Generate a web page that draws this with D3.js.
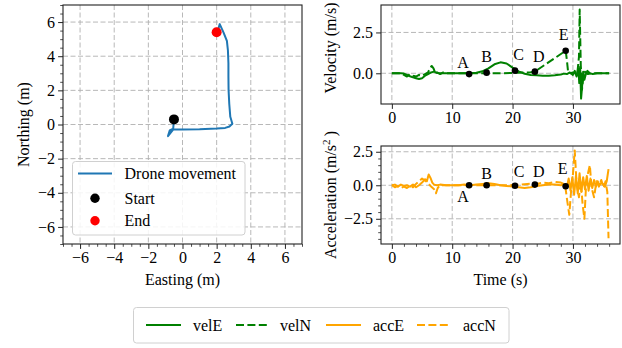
<!DOCTYPE html>
<html><head><meta charset="utf-8">
<script src="https://cdn.jsdelivr.net/npm/d3@7"></script>
<style>
body{margin:0;background:#fff}
svg{display:block}
</style>
</head><body>
<svg id="c" width="622" height="348"></svg>
<script>
// ---------- DATA ----------
const trajEast  = [-0.5,-0.52,-0.55,-0.85,-0.75,-0.6,0.0,1.0,2.0,2.5,2.75,2.92,2.8,2.74,2.7,2.69,2.69,2.66,2.6,2.4,2.18,2.1,2.02];
const trajNorth = [0.3,0.05,-0.3,-0.68,-0.35,-0.28,-0.29,-0.28,-0.24,-0.2,-0.12,0.04,0.45,1.2,2.0,2.8,3.6,4.35,4.9,5.4,5.88,5.6,5.37];
const startPt = [-0.5, 0.3];
const endPt = [2.0, 5.4];

const tVelE = [0,1.5,2,2.5,3,3.5,4,4.5,5,5.5,6,6.5,7,7.5,8,9,10,11,12,13,14,15,16,17,18,19,20,21,22,23,24,25,26,27,28,28.5,29,29.5,30,30.3,30.6,30.9,31.05,31.2,31.35,31.5,31.7,31.9,32.1,32.4,32.8,33.3,34,35,36];
const velE  = [0,0,-0.02,-0.1,-0.18,-0.25,-0.3,-0.35,-0.3,-0.15,-0.05,0.05,0.1,0.02,0,0,0,0,0,0,0.03,0.12,0.3,0.55,0.67,0.6,0.35,0.12,-0.03,-0.1,-0.12,-0.15,-0.15,-0.12,-0.08,-0.02,-0.05,0.05,-0.1,0.15,-0.2,0.3,-0.6,0.4,-1.55,-0.9,0.1,-0.4,-0.1,0.15,0,-0.05,0,0,0];

const tVelN = [0,1.5,2,2.5,3,3.5,4,4.5,5,5.5,6,6.3,6.6,6.9,7.2,7.5,8,8.5,9,10,12,14,16,18,20,22,23,23.7,25,26,27,28,28.8,29.0,29.2,29.6,30,30.4,30.7,31.0,31.12,31.3,31.5,31.7,32,32.5,33,34,35,36];
const velN  = [0,0,-0.1,-0.2,-0.05,-0.15,-0.2,-0.1,-0.15,-0.05,0.05,0.3,0.45,0.3,0,0.05,-0.05,0.05,0,0,0,0,0,0,0.02,0.05,0.06,0.1,0.43,0.68,0.93,1.18,1.38,0.8,0.1,0,0.05,0,-0.1,1.0,3.9,0.5,-1.0,-0.3,0.1,-0.05,0,0,0,0];

const tAccE = [0,0.5,1,1.5,2,2.5,3,3.5,4,4.5,5,5.5,5.8,6.1,6.4,6.7,7,7.5,8,9,10,11,12,13,14,15,16,17,18,19,20,21,22,23,24,25,26,27,28,28.5,29,29.3,29.6,29.9,30.2,30.5,30.8,31.1,31.4,31.7,32,32.3,32.6,32.9,33.2,33.5,33.8,34.1,34.4,34.7,35,35.3,35.6,35.9];
const accE  = [0,0.05,-0.1,0.05,-0.05,0,-0.1,0.05,-0.15,0,0.2,0.45,0.3,0.8,0.55,0.2,0.05,0,0.05,0,0,0,0.05,0,0.05,0.1,0.15,0.1,0,-0.05,-0.1,-0.15,-0.2,-0.15,-0.05,0,0.05,0.05,0,0.1,-0.1,0.5,-0.4,0.6,-0.7,0.7,-0.6,0.9,-0.5,0.6,-0.3,0.7,-0.4,0.5,-0.2,0.4,-0.1,0.3,0,0.2,0.1,-0.1,0.3,1.2];

const tAccN = [0,0.5,1,1.5,2,2.5,3,3.5,4,4.5,5,5.5,6,6.5,7,7.3,7.6,8,9,10,12,14,16,18,20,22,23,24,25,26,27,28,28.5,28.8,29.1,29.4,29.7,30.0,30.3,30.6,31.0,31.3,31.6,31.9,32.2,32.5,32.8,33.1,33.5,33.9,34.3,34.7,35.1,35.4,35.7,35.9];
const accN  = [0,-0.15,-0.05,-0.2,-0.1,-0.2,-0.05,-0.15,0.1,0.3,0.5,0.35,0.15,-0.1,-0.3,-0.6,-0.2,0,0,0,0,0,0,0,0.02,0.08,0.12,0.1,0.2,0.15,0.25,0.2,0.1,-0.3,-1.3,-2.2,-0.4,0.8,2.6,0.2,-0.9,0.3,-1.4,-2.5,0.2,0.9,1.5,-0.2,-0.9,0.3,-0.1,0.4,-0.2,0.3,-0.5,-3.95];

const markLabels = ["A","B","C","D","E"];
const markT   = [12.8,15.7,20.4,23.7,28.8];
const markVel = [-0.05,0.04,0.16,0.1,1.38];
const markAcc = [0.0,0.0,-0.03,0.05,-0.07];

const xTicksL = [-6,-4,-2,0,2,4,6];
const yTicksL = [-6,-4,-2,0,2,4,6];
const tTicks = [0,10,20,30];
const vTicks = [0,2.5];
const aTicks = [-2.5,0,2.5];
const legendNames = ["velE","velN","accE","accN"];

// ---------- STYLE ----------
const FS = 16;
const FONT = '"Liberation Serif", "Times New Roman", Times, serif';
const GREEN = "#008000", ORANGE = "#ffa500", BLUE = "#1f77b4";
const DASH = "8,3.4";
const svg = d3.select("#c");
const minus = s => String(s).replace("-", "\u2212");
const txt = (sel) => sel.style("font-family", FONT).style("font-size", FS+"px").attr("fill","#000");

// scales
const xL = d3.scaleLinear([-7,7],[63,302]);
const yL = d3.scaleLinear([-7,7],[244,5]);
const xT = d3.scaleLinear([-1.8,37.8],[381,620]);
const yV = d3.scaleLinear([-1.88,4.18],[104,5]);
const yA = d3.scaleLinear([-4.38,2.93],[244,146]);

function frame(id, xs, ys, xt, yt, xMinor, yMinor, fx, fy){
  const [x0,x1] = xs.range(), [y1,y0] = ys.range();
  const g = svg.append("g");
  const grid = g.append("g").attr("stroke","#b0b0b0").attr("stroke-width",0.9).attr("stroke-dasharray","5,2.5");
  xt.forEach(v=>grid.append("line").attr("x1",xs(v)).attr("x2",xs(v)).attr("y1",y0).attr("y2",y1));
  yt.forEach(v=>grid.append("line").attr("y1",ys(v)).attr("y2",ys(v)).attr("x1",x0).attr("x2",x1));
  const ax = g.append("g").attr("transform",`translate(0,${y1})`)
    .call(d3.axisBottom(xs).tickValues(xt).tickSize(4.9).tickPadding(3.2).tickFormat(fx));
  const ay = g.append("g").attr("transform",`translate(${x0},0)`)
    .call(d3.axisLeft(ys).tickValues(yt).tickSize(4.9).tickPadding(3.2).tickFormat(fy));
  [ax,ay].forEach(a=>{
    a.attr("font-family",null).attr("font-size",null);
    a.select(".domain").remove();
    a.selectAll("line").attr("stroke","#222").attr("stroke-width",1);
    txt(a.selectAll("text"));
  });
  if(xMinor){
    const m = g.append("g").attr("transform",`translate(0,${y1})`)
      .call(d3.axisBottom(xs).tickValues(xMinor).tickSize(2.8).tickFormat(""));
    m.select(".domain").remove(); m.selectAll("line").attr("stroke","#222").attr("stroke-width",0.8);
  }
  if(yMinor){
    const m = g.append("g").attr("transform",`translate(${x0},0)`)
      .call(d3.axisLeft(ys).tickValues(yMinor).tickSize(2.8).tickFormat(""));
    m.select(".domain").remove(); m.selectAll("line").attr("stroke","#222").attr("stroke-width",0.8);
  }
  svg.append("clipPath").attr("id",id).append("rect").attr("x",x0).attr("y",y0).attr("width",x1-x0).attr("height",y1-y0);
  const data = svg.append("g").attr("clip-path",`url(#${id})`);
  return {g, data, box:[x0,y0,x1,y1]};
}
function spine(box){
  const [x0,y0,x1,y1]=box;
  svg.append("rect").attr("x",x0).attr("y",y0).attr("width",x1-x0).attr("height",y1-y0)
    .attr("fill","none").attr("stroke","#222").attr("stroke-width",1.1);
}
const rangeStep=(a,b,s)=>d3.range(a,b+1e-9,s).map(v=>+v.toFixed(3));

// ---------- LEFT: trajectory ----------
const L = frame("clipL", xL, yL, xTicksL, yTicksL,
  rangeStep(-7,7,0.5).filter(v=>v%2!==0), rangeStep(-7,7,0.5).filter(v=>v%2!==0),
  d=>minus(d), d=>minus(d));
L.data.append("path").datum(d3.range(trajEast.length))
  .attr("d", d3.line().x(i=>xL(trajEast[i])).y(i=>yL(trajNorth[i])))
  .attr("fill","none").attr("stroke",BLUE).attr("stroke-width",2).attr("stroke-linejoin","round");
L.data.append("circle").attr("cx",xL(startPt[0])).attr("cy",yL(startPt[1])).attr("r",5).attr("fill","#000");
L.data.append("circle").attr("cx",xL(endPt[0])).attr("cy",yL(endPt[1])).attr("r",5).attr("fill","#f00");
spine(L.box);
const lg = svg.append("g");
lg.append("rect").attr("x",72.5).attr("y",161.5).attr("width",172.5).attr("height",73.5).attr("rx",3)
  .attr("fill","#fff").attr("fill-opacity",0.85).attr("stroke","#d0d0d0").attr("stroke-width",1);
lg.append("line").attr("x1",78).attr("x2",112).attr("y1",173.5).attr("y2",173.5).attr("stroke",BLUE).attr("stroke-width",2);
lg.append("circle").attr("cx",95).attr("cy",198.3).attr("r",4.7).attr("fill","#000");
lg.append("circle").attr("cx",95).attr("cy",220.7).attr("r",4.7).attr("fill","#f00");
[["Drone movement",179],["Start",203.5],["End",226]].forEach(([t,y])=>
  txt(lg.append("text").attr("x",124.5).attr("y",y)).text(t));
txt(svg.append("text").attr("x",(63+302)/2).attr("y",285).attr("text-anchor","middle")).text("Easting (m)");
txt(svg.append("text").attr("transform",`translate(29,${(5+244)/2}) rotate(-90)`).attr("text-anchor","middle")).text("Northing (m)");

// ---------- RIGHT TOP: velocity ----------
const V = frame("clipV", xT, yV, tTicks, vTicks, null, null, d=>d, d3.format(".1f"));
const lineT = (tArr, vArr, ys) => d3.line().x(i=>xT(tArr[i])).y(i=>ys(vArr[i]));
V.data.append("path").datum(d3.range(tVelE.length)).attr("d", lineT(tVelE,velE,yV))
  .attr("fill","none").attr("stroke",GREEN).attr("stroke-width",2).attr("stroke-linejoin","round");
V.data.append("path").datum(d3.range(tVelN.length)).attr("d", lineT(tVelN,velN,yV))
  .attr("fill","none").attr("stroke",GREEN).attr("stroke-width",2).attr("stroke-dasharray",DASH).attr("stroke-linejoin","round");
const velLabOff = [[-6,-6.3],[0,-11],[3.5,-10.7],[4,-10],[-2,-10.7]];
markT.forEach((t,i)=>{
  V.data.append("circle").attr("cx",xT(t)).attr("cy",yV(markVel[i])).attr("r",3.3).attr("fill","#000");
  txt(svg.append("text").attr("x",xT(t)+velLabOff[i][0]).attr("y",yV(markVel[i])+velLabOff[i][1])
    .attr("text-anchor","middle")).text(markLabels[i]);
});
spine(V.box);
txt(svg.append("text").attr("transform",`translate(336,48) rotate(-90)`).attr("text-anchor","middle")).text("Velocity (m/s)");

// ---------- RIGHT BOTTOM: acceleration ----------
const A = frame("clipA", xT, yA, tTicks, aTicks,
  rangeStep(0,36,2).filter(v=>v%10!==0), rangeStep(-4,2.5,0.5).filter(v=>Math.abs(v%2.5)>1e-6),
  d=>d, d3.format(".1f"));
A.data.append("path").datum(d3.range(tAccE.length)).attr("d", lineT(tAccE,accE,yA))
  .attr("fill","none").attr("stroke",ORANGE).attr("stroke-width",2).attr("stroke-linejoin","round");
A.data.append("path").datum(d3.range(tAccN.length)).attr("d", lineT(tAccN,accN,yA))
  .attr("fill","none").attr("stroke",ORANGE).attr("stroke-width",2).attr("stroke-dasharray",DASH).attr("stroke-linejoin","round");
const accLabOff = [[-6,16.7],[0,-6.7],[4,-8.6],[4,-7.6],[-3,-12.7]];
markT.forEach((t,i)=>{
  A.data.append("circle").attr("cx",xT(t)).attr("cy",yA(markAcc[i])).attr("r",3.3).attr("fill","#000");
  txt(svg.append("text").attr("x",xT(t)+accLabOff[i][0]).attr("y",yA(markAcc[i])+accLabOff[i][1])
    .attr("text-anchor","middle")).text(markLabels[i]);
});
spine(A.box);
const al = txt(svg.append("text").attr("transform",`translate(336,${(146+244)/2}) rotate(-90)`).attr("text-anchor","middle"));
al.append("tspan").text("Acceleration (m/s");
al.append("tspan").style("font-size","11px").attr("dy",-6).text("2");
al.append("tspan").attr("dy",6).text("\u2009)");
txt(svg.append("text").attr("x",(381+620)/2).attr("y",285).attr("text-anchor","middle")).text("Time (s)");

// ---------- BOTTOM LEGEND ----------
const bl = svg.append("g");
bl.append("rect").attr("x",133.5).attr("y",307.5).attr("width",375.5).attr("height",35.5).attr("rx",3)
  .attr("fill","#fff").attr("stroke","#d0d0d0").attr("stroke-width",1);
const legX = [[146,181,193],[236,269,280],[326,361,373],[417,450,463]];
const legStyle = [[GREEN,null],[GREEN,DASH],[ORANGE,null],[ORANGE,DASH]];
legendNames.forEach((n,i)=>{
  bl.append("line").attr("x1",legX[i][0]).attr("x2",legX[i][1]).attr("y1",325).attr("y2",325)
    .attr("stroke",legStyle[i][0]).attr("stroke-width",2).attr("stroke-dasharray",legStyle[i][1]);
  txt(bl.append("text").attr("x",legX[i][2]).attr("y",331)).text(n);
});
</script>
</body></html>
